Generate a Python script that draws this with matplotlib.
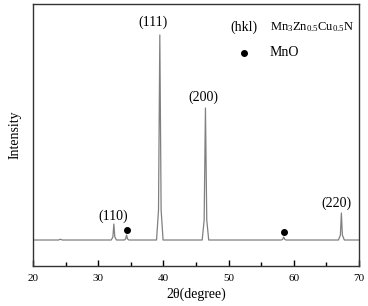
import matplotlib
matplotlib.use("Agg")
import matplotlib.pyplot as plt
from matplotlib.ticker import MultipleLocator

plt.rcParams['font.family'] = ['Liberation Serif', 'DejaVu Serif']
plt.rcParams['mathtext.fontset'] = 'custom'
plt.rcParams['mathtext.rm'] = 'Liberation Serif'
plt.rcParams['mathtext.it'] = 'Liberation Serif'

# XRD pattern points (2theta in degree, intensity in a.u.)
two_theta = [20.0, 23.9, 24.2, 24.5, 32.0, 32.25, 32.4, 32.55, 32.8,
             34.0, 34.2, 34.35, 34.5, 34.7,
             38.95, 39.25, 39.45, 39.65, 39.95,
             45.95, 46.25, 46.45, 46.65, 46.95,
             58.1, 58.3, 58.45, 58.6, 58.8,
             66.85, 67.15, 67.3, 67.45, 67.75, 70.0]
intensity = [100, 100, 115, 100, 100, 160, 420, 160, 100,
             100, 120, 200, 120, 100,
             100, 700, 4200, 700, 100,
             100, 500, 2740, 500, 100,
             100, 115, 160, 115, 100,
             100, 200, 640, 200, 100, 100]

# peak labels
hkl_labels = ["(110)", "(111)", "(200)", "(220)"]
hkl_x = [32.3, 38.4, 46.1, 66.6]
hkl_y = [580, 4460, 2950, 840]

# MnO markers
mno_x = [34.4, 58.5]
mno_y = [300, 260]

fig = plt.figure(figsize=(3.68, 3.06), dpi=100)
ax = fig.add_axes([0.0897, 0.1307, 0.8858, 0.8563])

ax.plot(two_theta, intensity, color="#808080", lw=0.9)
ax.scatter(mno_x, mno_y, s=16, color="black", zorder=3)

for lab, x, y in zip(hkl_labels, hkl_x, hkl_y):
    ax.text(x, y, lab, ha="center", va="center", fontsize=10)

# legend-like notes
ax.text(50.2, 4360, "(hkl)", ha="left", va="center", fontsize=10)
ax.text(56.35, 4360, r"Mn$_3$Zn$_{0.5}$Cu$_{0.5}$N", ha="left", va="center", fontsize=9)
ax.scatter([52.4], [3840], s=16, color="black")
ax.text(56.35, 3840, "MnO", ha="left", va="center", fontsize=10)

ax.set_xlim(20, 70)
ax.set_ylim(-420, 4820)
ax.set_yticks([])
ax.xaxis.set_major_locator(MultipleLocator(10))
ax.xaxis.set_minor_locator(MultipleLocator(5))
ax.tick_params(axis="x", which="major", direction="in", length=4, width=1, labelsize=8, pad=6)
ax.tick_params(axis="x", which="minor", direction="in", length=3, width=1)
for s in ax.spines.values():
    s.set_linewidth(1.0)
    s.set_color("#333333")

ax.set_xlabel("2θ(degree)", fontsize=10, labelpad=3)
ax.set_ylabel("Intensity", fontsize=10, labelpad=8)

fig.savefig("out.png", dpi=100)
